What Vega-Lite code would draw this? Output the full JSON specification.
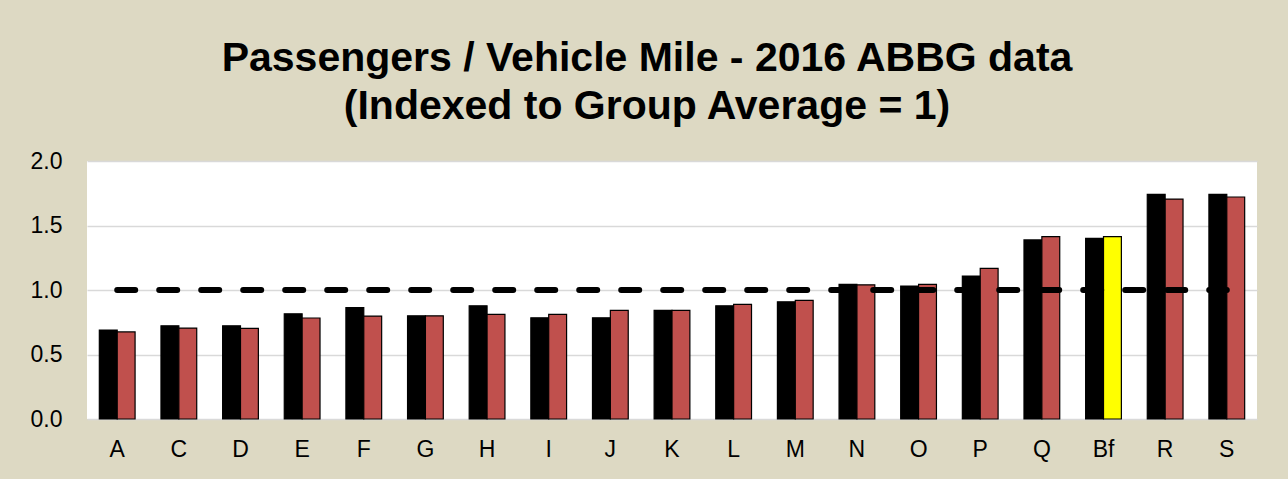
{
  "$schema": "https://vega.github.io/schema/vega-lite/v6.json",
  "width": 1170,
  "height": 258,
  "autosize": {"type": "none"},
  "padding": {"left": 87, "top": 161, "right": 31, "bottom": 60},
  "background": "#ddd9c3",
  "title": {
    "text": ["Passengers / Vehicle Mile - 2016 ABBG data", "(Indexed to Group Average = 1)"],
    "font": "Liberation Sans",
    "fontSize": 41,
    "fontWeight": "bold",
    "color": "#000000",
    "anchor": "middle",
    "frame": "group",
    "dx": -25,
    "lineHeight": 48,
    "offset": 22
  },
  "config": {
    "view": {"fill": "#ffffff", "stroke": null},
    "font": "Liberation Sans"
  },
  "data": {
    "values": [
      {"cat": "A", "series": "S1", "value": 0.69}, {"cat": "A", "series": "S2", "value": 0.675},
      {"cat": "C", "series": "S1", "value": 0.723}, {"cat": "C", "series": "S2", "value": 0.705},
      {"cat": "D", "series": "S1", "value": 0.723}, {"cat": "D", "series": "S2", "value": 0.703},
      {"cat": "E", "series": "S1", "value": 0.816}, {"cat": "E", "series": "S2", "value": 0.783},
      {"cat": "F", "series": "S1", "value": 0.863}, {"cat": "F", "series": "S2", "value": 0.798},
      {"cat": "G", "series": "S1", "value": 0.8}, {"cat": "G", "series": "S2", "value": 0.8},
      {"cat": "H", "series": "S1", "value": 0.878}, {"cat": "H", "series": "S2", "value": 0.811},
      {"cat": "I", "series": "S1", "value": 0.785}, {"cat": "I", "series": "S2", "value": 0.811},
      {"cat": "J", "series": "S1", "value": 0.785}, {"cat": "J", "series": "S2", "value": 0.842},
      {"cat": "K", "series": "S1", "value": 0.842}, {"cat": "K", "series": "S2", "value": 0.842},
      {"cat": "L", "series": "S1", "value": 0.878}, {"cat": "L", "series": "S2", "value": 0.889},
      {"cat": "M", "series": "S1", "value": 0.909}, {"cat": "M", "series": "S2", "value": 0.92},
      {"cat": "N", "series": "S1", "value": 1.044}, {"cat": "N", "series": "S2", "value": 1.04},
      {"cat": "O", "series": "S1", "value": 1.031}, {"cat": "O", "series": "S2", "value": 1.044},
      {"cat": "P", "series": "S1", "value": 1.108}, {"cat": "P", "series": "S2", "value": 1.168},
      {"cat": "Q", "series": "S1", "value": 1.388}, {"cat": "Q", "series": "S2", "value": 1.413},
      {"cat": "Bf", "series": "S1", "value": 1.4}, {"cat": "Bf", "series": "S2", "value": 1.413},
      {"cat": "R", "series": "S1", "value": 1.742}, {"cat": "R", "series": "S2", "value": 1.705},
      {"cat": "S", "series": "S1", "value": 1.742}, {"cat": "S", "series": "S2", "value": 1.721}
    ]
  },
  "encoding": {
    "x": {
      "field": "cat",
      "type": "nominal",
      "sort": null,
      "scale": {"paddingInner": 0.42, "paddingOuter": 0.2},
      "axis": {
        "title": null,
        "labelAngle": 0,
        "labelFontSize": 23,
        "labelColor": "#000000",
        "labelPadding": 19,
        "ticks": false,
        "domain": false,
        "grid": false
      }
    }
  },
  "layer": [
    {
      "mark": {"type": "bar", "stroke": "#000000", "strokeWidth": 1.2},
      "encoding": {
        "xOffset": {"field": "series", "type": "nominal", "scale": {"paddingInner": 0, "paddingOuter": 0}},
        "y": {
          "field": "value",
          "type": "quantitative",
          "scale": {"domain": [0, 2]},
          "axis": {
            "title": null,
            "values": [0, 0.5, 1, 1.5, 2],
            "format": ".1f",
            "labelFontSize": 23,
            "labelColor": "#000000",
            "labelPadding": 25,
            "ticks": false,
            "domain": false,
            "gridColor": "#d9d9d9",
            "gridWidth": 1.5
          }
        },
        "color": {
          "condition": {"test": "datum.cat === 'Bf' && datum.series === 'S2'", "value": "#ffff00"},
          "field": "series",
          "type": "nominal",
          "scale": {"domain": ["S1", "S2"], "range": ["#000000", "#c0504d"]},
          "legend": null
        }
      }
    },
    {
      "transform": [{"filter": "datum.series === 'S1'"}],
      "mark": {"type": "line", "color": "#000000", "strokeWidth": 6, "strokeDash": [18, 24], "strokeCap": "round"},
      "encoding": {
        "y": {"datum": 1}
      }
    }
  ]
}
